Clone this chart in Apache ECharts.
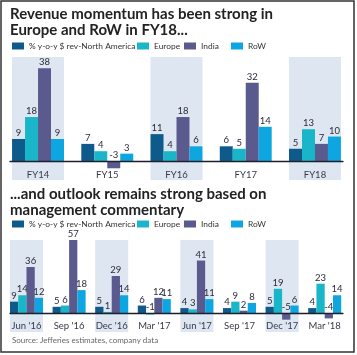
<!DOCTYPE html>
<html><head><meta charset="utf-8">
<script src="https://cdn.jsdelivr.net/npm/echarts@6/dist/echarts.min.js"></script>
<style>html,body{margin:0;padding:0;background:#fff}#c{width:357px;height:355px;}</style>
</head><body><div id="c"></div>
<script>
const seriesNames = ['% y-o-y $ rev-North America', 'Europe', 'India', 'RoW'];
const seriesColors = ['#0e5a8a', '#19b5c8', '#5b5a8e', '#0ea6e0'];
const legendLefts = [12, 137, 184, 231];

const yearCats = ['FY14', 'FY15', 'FY16', 'FY17', 'FY18'];
const yearNA = [9, 7, 11, 6, 5];
const yearEurope = [18, 4, 4, 5, 13];
const yearIndia = [38, -3, 18, 32, 7];
const yearRoW = [9, 3, 6, 14, 10];
const yearBands = ['FY14', 'FY16', 'FY18'];

const qtrCats = ["Jun '16", "Sep '16", "Dec '16", "Mar '17", "Jun '17", "Sep '17", "Dec '17", "Mar '18"];
const qtrNA = [9, 5, 5, 6, 4, 4, 5, 4];
const qtrEurope = [14, 6, 1, -1, 3, 9, 19, 23];
const qtrIndia = [36, 57, 29, 12, 41, 2, -5, -4];
const qtrRoW = [12, 18, 14, 11, 11, 8, 6, 14];
const qtrBands = ["Jun '16", "Dec '16", "Jun '17", "Dec '17"];

const FONT = 'Lato, "Open Sans", sans-serif';
const chart = echarts.init(document.getElementById('c'), null, {renderer: 'canvas'});

function bandSeries(xi, data, frac) {
  return {
    type: 'custom', xAxisIndex: xi, yAxisIndex: xi, z: 0, silent: true,
    data: data.map(d => [d]), encode: {x: 0},
    renderItem: function (params, api) {
      const p = api.coord([api.value(0), 0]);
      const w = api.size([1, 0])[0] * frac;
      const cs = params.coordSys;
      return {type: 'rect', shape: {x: p[0] - w / 2, y: cs.y, width: w, height: cs.height},
              style: {fill: '#dde6f1'}};
    }
  };
}
function barSeries(xi, name, color, data, gap) {
  return {
    type: 'bar', name: name, xAxisIndex: xi, yAxisIndex: xi, z: 2, data: data,
    barGap: '0%', barCategoryGap: gap,
    itemStyle: {color: color},
    label: {show: true, position: 'top', distance: 1, fontSize: 9.5, fontFamily: FONT, color: '#2b2b3b'}
  };
}
function legends(top) {
  const ts = {fontSize: 8.4, fontFamily: FONT, color: '#333'};
  return seriesNames.map((n, i) => ({
    top: top, left: legendLefts[i], padding: 0, itemWidth: 12, itemHeight: 7, itemGap: 0, icon: 'rect',
    data: [n], textStyle: ts, selectedMode: false
  }));
}
const hiddenY = (min, max, gi) => ({type: 'value', gridIndex: gi, min: min, max: max, show: false});
const catX = (cats, gi, margin) => ({type: 'category', gridIndex: gi, data: cats, z: 1,
  axisLine: {show: false, onZero: false}, axisTick: {show: false},
  axisLabel: {margin: margin, fontSize: 9.5, fontFamily: FONT, color: '#3a3a4a'}});
const lineX = (gi) => ({type: 'value', gridIndex: gi, min: 0, max: 1, z: 5,
  axisLine: {show: true, onZero: true, lineStyle: {color: '#1f1f2a', width: 1.3}},
  axisTick: {show: false}, axisLabel: {show: false}, splitLine: {show: false}});

const option = {
  animation: false,
  title: [
    {text: 'Revenue momentum has been strong in\nEurope and RoW in FY18...', left: 10, top: 6, padding: 0,
     textStyle: {fontSize: 15, fontWeight: 'bold', fontFamily: FONT, color: '#222', lineHeight: 16}},
    {text: '...and outlook remains strong based on\nmanagement commentary', left: 10, top: 186, padding: 0,
     textStyle: {fontSize: 15, fontWeight: 'bold', fontFamily: FONT, color: '#222', lineHeight: 16}},
    {text: 'Source: Jefferies estimates, company data', left: 12, top: 336, padding: 0,
     textStyle: {fontSize: 8, fontWeight: 'normal', fontFamily: FONT, color: '#666'}}
  ],
  legend: legends(42).concat(legends(220)),
  grid: [
    {left: 3.4, right: 7.4, top: 57, bottom: 175},
    {left: 10, right: 14, top: 57, bottom: 175},
    {left: 5.2, right: 11, top: 240, bottom: 23},
    {left: 10, right: 14, top: 240, bottom: 23}
  ],
  xAxis: [catX(yearCats, 0, -10.5), lineX(1), catX(qtrCats, 2, -11), lineX(3)],
  yAxis: [hiddenY(-7.8, 42.6, 0), hiddenY(-7.8, 42.6, 1), hiddenY(-14.6, 57, 2), hiddenY(-14.6, 57, 3)],
  graphic: [{type: 'rect', z: 100, shape: {x: 1, y: 1, width: 353, height: 351}, style: {fill: null, stroke: '#333', lineWidth: 1.5}, silent: true}],
  series: [
    bandSeries(0, yearBands, 0.75),
    barSeries(0, seriesNames[0], seriesColors[0], yearNA, '25%'),
    barSeries(0, seriesNames[1], seriesColors[1], yearEurope, '25%'),
    barSeries(0, seriesNames[2], seriesColors[2], yearIndia, '25%'),
    barSeries(0, seriesNames[3], seriesColors[3], yearRoW, '25%'),
    bandSeries(2, qtrBands, 0.775),
    barSeries(2, seriesNames[0], seriesColors[0], qtrNA, '22.5%'),
    barSeries(2, seriesNames[1], seriesColors[1], qtrEurope, '22.5%'),
    barSeries(2, seriesNames[2], seriesColors[2], qtrIndia, '22.5%'),
    barSeries(2, seriesNames[3], seriesColors[3], qtrRoW, '22.5%')
  ]
};
chart.setOption(option);
</script></body></html>
